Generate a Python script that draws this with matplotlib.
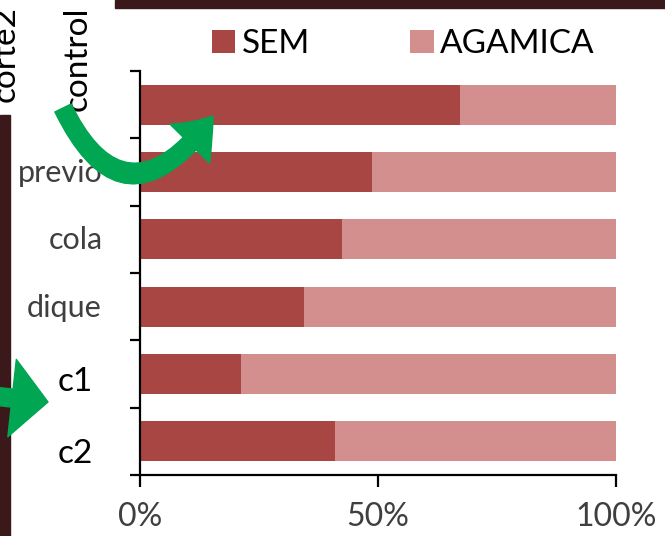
import matplotlib
matplotlib.use("Agg")
import matplotlib.pyplot as plt
from matplotlib.patches import Rectangle, FancyArrowPatch, ArrowStyle
from matplotlib.path import Path
import numpy as np

# ---- data ----
categories = ["control", "previo", "cola", "dique", "c1", "c2"]
sem = [0.672, 0.487, 0.424, 0.345, 0.212, 0.410]
agamica = [0.328, 0.513, 0.576, 0.655, 0.788, 0.590]
series_names = ["SEM", "AGAMICA"]
xtick_values = [0, 0.5, 1.0]
xtick_labels = ["0%", "50%", "100%"]

# ---- style ----
W, H = 665, 536
C_SEM = "#a84644"
C_AGA = "#d28f8e"
GRAY = "#3f3f3f"
DARK = "#3b1819"
GREEN = "#00a651"
FONT = "Lato"

plt.rcParams["font.family"] = [FONT, "DejaVu Sans"]

fig = plt.figure(figsize=(W / 100, H / 100), dpi=100)


def px(x, y):
    return (x / W, 1 - y / H)


ax = fig.add_axes([140 / W, 1 - 475 / H, 476 / W, 404 / H])
y = np.arange(len(categories))
bh = 0.59
b1 = ax.barh(y, sem, height=bh, color=C_SEM, label=series_names[0])
b2 = ax.barh(y, agamica, left=sem, height=bh, color=C_AGA, label=series_names[1])

ax.set_xlim(0, 1)
ax.set_ylim(len(categories) - 0.5, -0.5)
for s in ["top", "right"]:
    ax.spines[s].set_visible(False)
for s in ["left", "bottom"]:
    ax.spines[s].set_linewidth(1.6)
    ax.spines[s].set_color("black")

ax.set_xticks(xtick_values)
ax.set_xticklabels(xtick_labels, fontsize=23, color=GRAY)
ax.tick_params(axis="x", direction="out", length=8.5, width=1.6, pad=11)
ax.set_yticks([])
ax.set_yticks(np.arange(-0.5, len(categories)), minor=True)
ax.tick_params(axis="y", which="minor", direction="out", length=7.2, width=1.6)
ax.tick_params(axis="y", which="major", length=0, labelleft=False)

# category labels (offsets in pixels from the bar's left end)
label_style = {
    "control": dict(off=(-53, -6), rot=90, color="black", size=24, ha="left"),
    "previo": dict(off=(-37, -10), rot=0, color=GRAY, size=22, ha="right"),
    "cola": dict(off=(-37, -10), rot=0, color=GRAY, size=22, ha="right"),
    "dique": dict(off=(-38, -10), rot=0, color=GRAY, size=22, ha="right"),
    "c1": dict(off=(-47, -17), rot=0, color="black", size=24, ha="right"),
    "c2": dict(off=(-47, -22), rot=0, color="black", size=24, ha="right"),
}
for i, cat in enumerate(categories):
    st = label_style[cat]
    ax.annotate(cat, xy=(0, i), xycoords="data", xytext=st["off"],
                textcoords="offset pixels", rotation=st["rot"],
                rotation_mode="anchor", ha=st["ha"], va="baseline",
                fontsize=st["size"], color=st["color"], annotation_clip=False)

# legend
fig.legend(handles=[b1, b2], labels=series_names, loc="upper left",
           bbox_to_anchor=px(212, 29), ncol=2, frameon=False, fontsize=24,
           handlelength=0.7, handleheight=0.7, handletextpad=0.2,
           columnspacing=3.0, borderpad=0, borderaxespad=0)

# slide decorations
fig.patches.append(Rectangle(px(115, 8), (W - 115) / W, 8 / H,
                             transform=fig.transFigure, color=DARK, zorder=0))
fig.patches.append(Rectangle(px(0, H), 10 / W, (H - 115) / H,
                             transform=fig.transFigure, color=DARK, zorder=0))
fig.text(*px(15, 102), "corte2", rotation=90, rotation_mode="anchor",
         ha="left", va="baseline", fontsize=24, color="black")

# green arrows
verts = [px(63, 108), px(125, 235), px(213, 116)]
path = Path(verts, [Path.MOVETO, Path.CURVE3, Path.CURVE3])
arr1 = FancyArrowPatch(path=path, transform=fig.transFigure,
                       arrowstyle=ArrowStyle.Simple(head_length=26, head_width=40, tail_width=13),
                       mutation_scale=1, color=GREEN, zorder=5)
fig.patches.append(arr1)
arr2 = FancyArrowPatch(px(-25, 394), px(48, 402), transform=fig.transFigure,
                       arrowstyle=ArrowStyle.Simple(head_length=26, head_width=56, tail_width=13),
                       mutation_scale=1, color=GREEN, shrinkA=0, shrinkB=0, zorder=5)
fig.patches.append(arr2)

fig.savefig("out.png", dpi=100)
